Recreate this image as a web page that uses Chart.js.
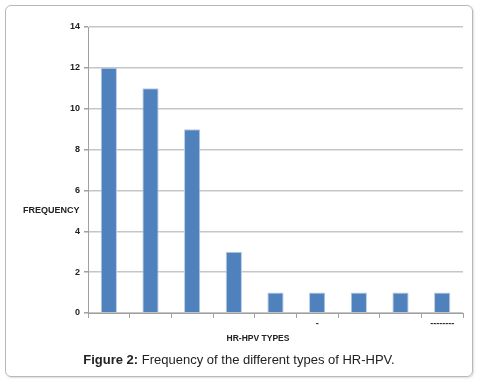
<!DOCTYPE html>
<html>
<head>
<meta charset="utf-8">
<script src="https://cdn.jsdelivr.net/npm/chart.js@4/dist/chart.umd.min.js"></script>
<style>
  body { margin: 0; width: 478px; height: 383px; background: #fff; position: relative; overflow: hidden; font-family: "Liberation Sans", Arial, sans-serif; }
  #frame { position: absolute; left: 5px; top: 5px; width: 466px; height: 370px; border: 1px solid #b8b8b8; border-radius: 6px; box-shadow: 1px 1px 2px #ddd; }
  #myChart { position: absolute; left: 0; top: 0; }
  .ylab { position: absolute; left: 23px; top: 205px; font-size: 9px; font-weight: bold; color: #222; }
  .xlab { position: absolute; left: 0; width: 516px; top: 333px; text-align: center; font-size: 8.5px; font-weight: bold; color: #222; }
  .caption { position: absolute; left: 0; width: 478px; top: 352px; text-align: center; font-size: 13px; color: #222; }
</style>
</head>
<body>
<div id="frame"></div>
<canvas id="myChart" width="478" height="383"></canvas>
<div class="ylab">FREQUENCY</div>
<div class="xlab">HR-HPV TYPES</div>
<div class="caption"><b>Figure 2:</b> Frequency of the different types of HR-HPV.</div>
<script>
// categories are unreadable in the figure, only two stray marks show under the axis
var categories = ['', '', '', '', '', '-', '', '', '--------'];
var frequencies = [12, 11, 9, 3, 1, 1, 1, 1, 1];
var yTicks = [0, 2, 4, 6, 8, 10, 12, 14];

var ctx = document.getElementById('myChart').getContext('2d');
var chart = new Chart(ctx, {
    type: 'bar',
    data: {
        labels: categories,
        datasets: [{
            label: 'Frequency',
            data: frequencies,
            backgroundColor: '#4f81bd',
            borderColor: '#b9cbe3',
            borderWidth: 1,
            categoryPercentage: 1,
            barPercentage: 0.39
        }]
    },
    options: {
        responsive: false,
        animation: false,
        devicePixelRatio: 1,
        layout: { padding: { left: 68, right: 15, top: 27, bottom: 50 } },
        plugins: { legend: { display: false }, tooltip: { enabled: false } },
        scales: {
            x: {
                afterFit: function (scale) { scale.height = 20; },
                grid: { offset: true, drawOnChartArea: false, drawTicks: true, tickLength: 5, color: '#a0a0a0' },
                border: { color: '#a0a0a0', width: 1 },
                ticks: { color: '#222', font: { size: 9, weight: 'bold', family: 'Liberation Sans' }, padding: 0, maxRotation: 0, autoSkip: false }
            },
            y: {
                min: 0,
                max: 14,
                afterFit: function (scale) { scale.width = 20; },
                afterBuildTicks: function (scale) { scale.ticks = yTicks.map(function (v) { return { value: v }; }); },
                grid: { color: '#c6c6c6', lineWidth: 1.5, tickLength: 4, tickColor: '#a0a0a0' },
                border: { color: '#a0a0a0', width: 1 },
                ticks: { color: '#222', font: { size: 9, weight: 'bold', family: 'Liberation Sans' }, padding: 4 }
            }
        }
    }
});
</script>
</body>
</html>
